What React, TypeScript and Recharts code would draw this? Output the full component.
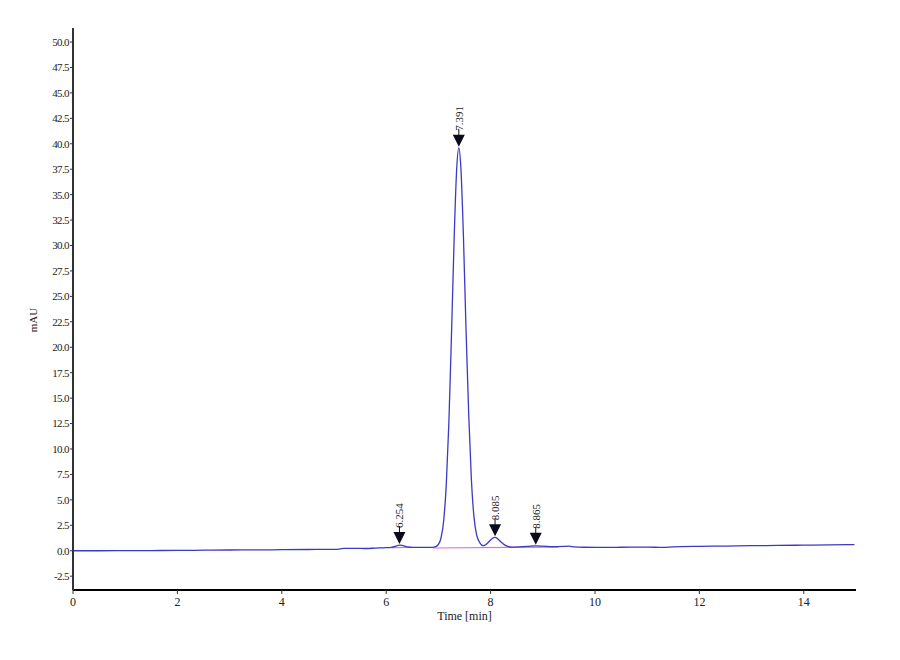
import React from 'react';
import { ComposedChart, Line, Scatter, XAxis, YAxis } from 'recharts';

// retention time [min] and detector signal [mAU] of the trace
const TIMES = [
  0, 0.5, 1, 1.5, 2, 2.5, 3, 3.5, 4, 4.5, 5.0, 5.1, 5.2, 5.4, 5.6, 5.8, 6.0, 6.1, 6.2, 6.254, 6.32, 6.4,
  6.5, 6.7, 6.85, 6.9, 6.95, 7.0, 7.05, 7.1, 7.15, 7.2, 7.25, 7.3, 7.35, 7.391, 7.43, 7.48, 7.53, 7.58,
  7.63, 7.68, 7.73, 7.78, 7.83, 7.87, 7.92, 7.97, 8.03, 8.085, 8.14, 8.2, 8.26, 8.33, 8.4, 8.55, 8.7,
  8.865, 9.0, 9.2, 9.4, 9.5, 9.6, 9.8, 10, 10.5, 11, 11.3, 11.5, 12, 12.5, 13, 13.5, 14, 14.5, 14.97,
];
const SIGNAL = [
  0.0, 0.0, 0.01, 0.02, 0.03, 0.05, 0.07, 0.08, 0.1, 0.12, 0.14, 0.16, 0.24, 0.24, 0.22, 0.26, 0.3, 0.34,
  0.48, 0.56, 0.5, 0.38, 0.33, 0.33, 0.32, 0.34, 0.4, 0.62, 1.25, 2.9, 6.4, 12.5, 21.1, 30.4, 37.5, 39.6,
  37.7, 30.8, 21.6, 13.5, 7.2, 3.4, 1.6, 0.9, 0.55, 0.5, 0.65, 0.9, 1.2, 1.32, 1.15, 0.85, 0.6, 0.42,
  0.36, 0.38, 0.42, 0.48, 0.45, 0.4, 0.42, 0.45, 0.38, 0.34, 0.33, 0.34, 0.36, 0.32, 0.38, 0.43, 0.46,
  0.5, 0.52, 0.55, 0.58, 0.6,
];

// integration baselines (pink)
const BASE1_T = [6.1, 6.5];
const BASE1_V = [0.3, 0.32];
const BASE2_T = [6.9, 9.3];
const BASE2_V = [0.27, 0.36];

// peak marks
const PEAK_T = [6.254, 7.391, 8.085, 8.865];
const PEAK_V = [0.56, 39.6, 1.32, 0.48];
const PEAK_LABELS = ['6.254', '7.391', '8.085', '8.865'];

const X_TICKS = [0, 2, 4, 6, 8, 10, 12, 14];
const Y_TICKS = [-2.5, 0, 2.5, 5, 7.5, 10, 12.5, 15, 17.5, 20, 22.5, 25, 27.5, 30, 32.5, 35, 37.5, 40, 42.5, 45, 47.5, 50];

const trace = TIMES.map((t, i) => ({ t, v: SIGNAL[i] }));
const base1 = BASE1_T.map((t, i) => ({ t, b: BASE1_V[i] }));
const base2 = BASE2_T.map((t, i) => ({ t, b: BASE2_V[i] }));
const peaks = PEAK_T.map((t, i) => ({ t, v: PEAK_V[i], label: PEAK_LABELS[i] }));

const FONT = '"Liberation Serif", "DejaVu Serif", serif';

const PeakMark = (props: any) => {
  const { cx, cy, payload } = props;
  const tx = cx;
  const ty = cy - 17;
  return (
    <g>
      <line x1={cx} y1={cy - 19} x2={cx} y2={cy - 10} stroke="#111" strokeWidth={1} />
      <polygon points={`${cx - 6},${cy - 13} ${cx + 6},${cy - 13} ${cx},${cy - 1}`} fill="#0a0a1a" />
      <text
        x={tx}
        y={ty}
        transform={`rotate(-90 ${tx} ${ty})`}
        textAnchor="start"
        dominantBaseline="central"
        fontFamily={FONT}
        fontSize={11}
        fill="#222"
      >
        {payload.label}
      </text>
    </g>
  );
};

const App: React.FC = () => {
  return (
    <div style={{ position: 'absolute', left: 0, top: 0, width: 900, height: 660, background: '#fff' }}>
      <ComposedChart width={900} height={660} margin={{ top: 28, right: 44, bottom: 34, left: 13 }}>
        <XAxis
          dataKey="t"
          type="number"
          domain={[0, 15]}
          ticks={X_TICKS}
          allowDataOverflow
          axisLine={{ stroke: '#000', strokeWidth: 2 }}
          tickLine={{ stroke: '#333' }}
          tickSize={4}
          tickMargin={3}
          height={36}
          tick={{ fontFamily: FONT, fontSize: 12, fill: '#222' }}
          label={(p: any) => {
            const vb = p.viewBox;
            return (
              <text x={vb.x + vb.width / 2} y={vb.y + 30} textAnchor="middle" fontFamily={FONT} fontSize={12} fill="#222">
                Time [min]
              </text>
            );
          }}
        />
        <YAxis
          type="number"
          domain={[-3.86, 51.38]}
          ticks={Y_TICKS}
          allowDataOverflow
          width={60}
          axisLine={{ stroke: '#333', strokeWidth: 2 }}
          tickLine={{ stroke: '#333' }}
          tickSize={3}
          tickMargin={1}
          tickFormatter={(v: number) => v.toFixed(1)}
          tick={{ fontFamily: FONT, fontSize: 11, fill: '#222', letterSpacing: -0.6 }}
          label={(p: any) => {
            const vb = p.viewBox;
            const x = vb.x + 24;
            const y = vb.y + vb.height / 2 + 11;
            return (
              <text x={x} y={y} transform={`rotate(-90 ${x} ${y})`} textAnchor="middle" fontFamily={FONT} fontSize={11} fill="#222">
                mAU
              </text>
            );
          }}
        />
        <Line data={base1} dataKey="b" type="linear" stroke="#e070c8" strokeWidth={1.2} dot={false} isAnimationActive={false} />
        <Line data={base2} dataKey="b" type="linear" stroke="#e070c8" strokeWidth={1.2} dot={false} isAnimationActive={false} />
        <Line data={trace} dataKey="v" type="monotone" stroke="#3a3ac4" strokeWidth={1.3} dot={false} isAnimationActive={false} />
        <Scatter data={peaks} dataKey="v" shape={PeakMark} isAnimationActive={false} />
      </ComposedChart>
    </div>
  );
};

export default App;
